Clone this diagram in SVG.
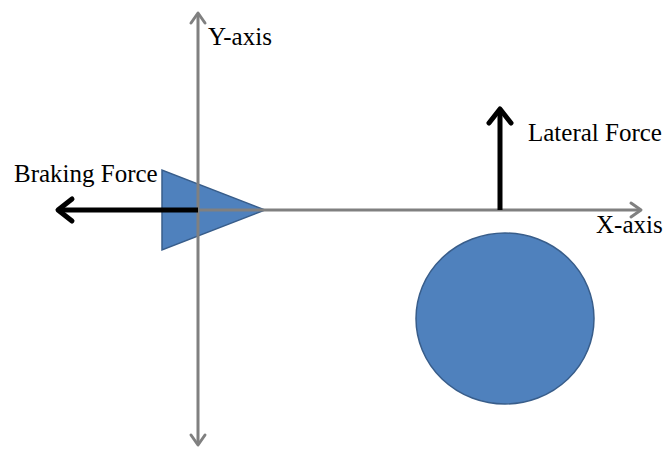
<svg xmlns="http://www.w3.org/2000/svg" width="664" height="450" viewBox="0 0 664 450">
<style>
.lbl{font-family:"Liberation Serif","Times New Roman",serif;font-size:25px;fill:#000}
.axis{stroke:#808080;stroke-width:3;fill:none}
.axhead{stroke:#808080;stroke-width:3;fill:none;stroke-linecap:round;stroke-linejoin:round}
.force{stroke:#000;stroke-width:5;fill:none}
.fhead{stroke:#000;stroke-width:5;fill:none;stroke-linecap:round;stroke-linejoin:round}
.shape{fill:#4F81BD;stroke:#385D8A;stroke-width:1.5}
</style>
<rect width="664" height="450" fill="#fff"/>
<g id="triangle"><polygon class="shape" points="162,170 162,250 265,210"/></g>
<g id="circle"><ellipse class="shape" cx="505" cy="318.5" rx="89" ry="85.5"/></g>
<g id="connectors">
<line class="axis" x1="198" y1="14" x2="198" y2="444"/>
<polyline class="axhead" points="191,23 198,13 205,23"/>
<polyline class="axhead" points="191,435 198,445 205,435"/>
<line class="axis" x1="198" y1="210" x2="640" y2="210"/>
<polyline class="axhead" points="631,203 641,210 631,217"/>
<line class="force" x1="198" y1="210" x2="59" y2="210"/>
<polyline class="fhead" points="72,199 58,210 72,221"/>
<line class="force" x1="500" y1="210" x2="500" y2="110"/>
<polyline class="fhead" points="489,123 500,109 511,123"/>
</g>
<g id="labels">
<text class="lbl" x="208" y="45">Y-axis</text>
<text class="lbl" x="14" y="182">Braking Force</text>
<text class="lbl" x="528" y="141">Lateral Force</text>
<text class="lbl" x="596" y="233">X-axis</text>
</g>
</svg>
